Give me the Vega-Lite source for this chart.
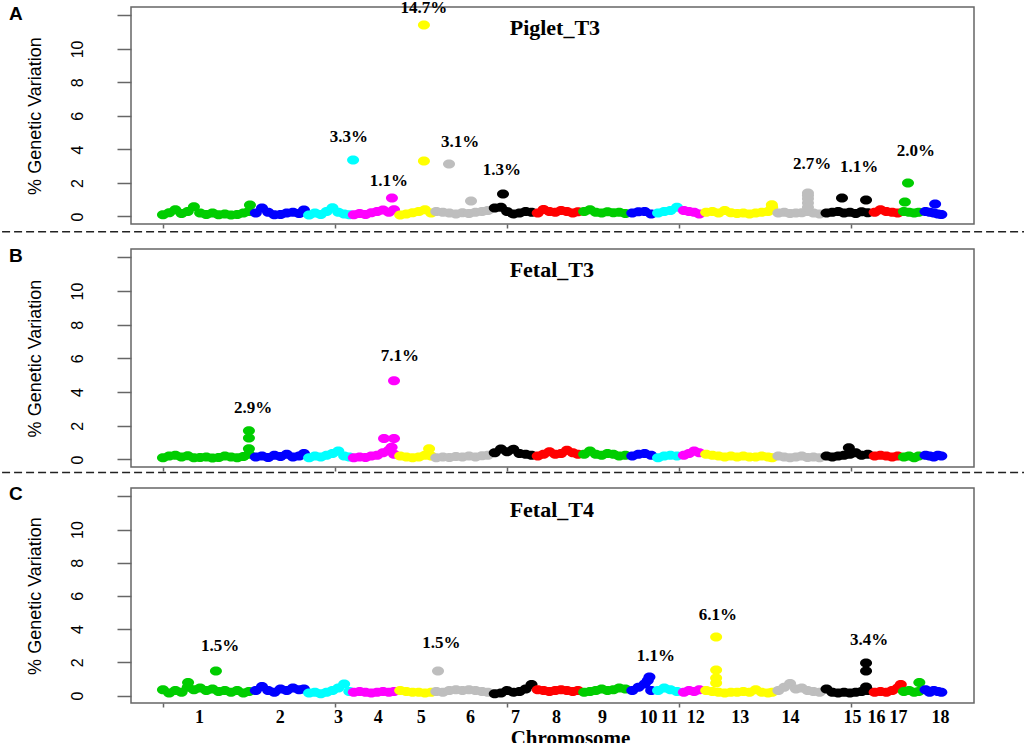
{
"$schema": "https://vega.github.io/schema/vega-lite/v6.json",
"padding": {"top": -2, "left": 0, "right": 0, "bottom": 0},
"background": "white",
"config": {"view": {"stroke": "#666666", "strokeWidth": 1.5}, "axis": {"grid": false, "labelOverlap": false}},
"datasets": {
"points": [
{"panel":"A","chr":"1","x":0,"y":0.1},{"panel":"A","chr":"1","x":18,"y":0.22},{"panel":"A","chr":"1","x":36,"y":0.4},{"panel":"A","chr":"1","x":54,"y":0.18},{"panel":"A","chr":"1","x":72,"y":0.3},{"panel":"A","chr":"1","x":90,"y":0.58},{"panel":"A","chr":"1","x":108,"y":0.2},{"panel":"A","chr":"1","x":126,"y":0.12},{"panel":"A","chr":"1","x":144,"y":0.2},{"panel":"A","chr":"1","x":162,"y":0.1},{"panel":"A","chr":"1","x":180,"y":0.15},{"panel":"A","chr":"1","x":198,"y":0.08},{"panel":"A","chr":"1","x":216,"y":0.12},{"panel":"A","chr":"1","x":234,"y":0.2},{"panel":"A","chr":"1","x":250,"y":0.3},{"panel":"A","chr":"1","x":253,"y":0.68},
{"panel":"A","chr":"2","x":270,"y":0.2},{"panel":"A","chr":"2","x":288,"y":0.5},{"panel":"A","chr":"2","x":306,"y":0.25},{"panel":"A","chr":"2","x":324,"y":0.1},{"panel":"A","chr":"2","x":342,"y":0.12},{"panel":"A","chr":"2","x":360,"y":0.2},{"panel":"A","chr":"2","x":378,"y":0.25},{"panel":"A","chr":"2","x":396,"y":0.18},{"panel":"A","chr":"2","x":410,"y":0.38},
{"panel":"A","chr":"3","x":425,"y":0.08},{"panel":"A","chr":"3","x":442,"y":0.2},{"panel":"A","chr":"3","x":459,"y":0.12},{"panel":"A","chr":"3","x":476,"y":0.3},{"panel":"A","chr":"3","x":493,"y":0.52},{"panel":"A","chr":"3","x":510,"y":0.25},{"panel":"A","chr":"3","x":527,"y":0.15},{"panel":"A","chr":"3","x":542,"y":0.1},{"panel":"A","chr":"3","x":553,"y":3.37},
{"panel":"A","chr":"4","x":555,"y":0.1},{"panel":"A","chr":"4","x":572,"y":0.18},{"panel":"A","chr":"4","x":589,"y":0.12},{"panel":"A","chr":"4","x":606,"y":0.22},{"panel":"A","chr":"4","x":623,"y":0.3},{"panel":"A","chr":"4","x":640,"y":0.38},{"panel":"A","chr":"4","x":657,"y":0.25},{"panel":"A","chr":"4","x":672,"y":0.4},{"panel":"A","chr":"4","x":666,"y":1.1},
{"panel":"A","chr":"5","x":690,"y":0.08},{"panel":"A","chr":"5","x":708,"y":0.15},{"panel":"A","chr":"5","x":726,"y":0.22},{"panel":"A","chr":"5","x":744,"y":0.3},{"panel":"A","chr":"5","x":762,"y":0.4},{"panel":"A","chr":"5","x":780,"y":0.2},{"panel":"A","chr":"5","x":759,"y":11.43},{"panel":"A","chr":"5","x":759,"y":3.31},
{"panel":"A","chr":"6","x":795,"y":0.3},{"panel":"A","chr":"6","x":814,"y":0.25},{"panel":"A","chr":"6","x":833,"y":0.2},{"panel":"A","chr":"6","x":852,"y":0.15},{"panel":"A","chr":"6","x":871,"y":0.22},{"panel":"A","chr":"6","x":890,"y":0.18},{"panel":"A","chr":"6","x":909,"y":0.25},{"panel":"A","chr":"6","x":928,"y":0.3},{"panel":"A","chr":"6","x":945,"y":0.35},{"panel":"A","chr":"6","x":832,"y":3.13},{"panel":"A","chr":"6","x":896,"y":0.92},
{"panel":"A","chr":"7","x":965,"y":0.5},{"panel":"A","chr":"7","x":983,"y":0.55},{"panel":"A","chr":"7","x":1001,"y":0.3},{"panel":"A","chr":"7","x":1019,"y":0.15},{"panel":"A","chr":"7","x":1037,"y":0.2},{"panel":"A","chr":"7","x":1055,"y":0.3},{"panel":"A","chr":"7","x":1072,"y":0.25},{"panel":"A","chr":"7","x":989,"y":1.34},
{"panel":"A","chr":"8","x":1090,"y":0.2},{"panel":"A","chr":"8","x":1107,"y":0.42},{"panel":"A","chr":"8","x":1124,"y":0.3},{"panel":"A","chr":"8","x":1141,"y":0.25},{"panel":"A","chr":"8","x":1158,"y":0.35},{"panel":"A","chr":"8","x":1175,"y":0.3},{"panel":"A","chr":"8","x":1192,"y":0.2},{"panel":"A","chr":"8","x":1207,"y":0.28},
{"panel":"A","chr":"9","x":1225,"y":0.3},{"panel":"A","chr":"9","x":1242,"y":0.4},{"panel":"A","chr":"9","x":1259,"y":0.25},{"panel":"A","chr":"9","x":1276,"y":0.2},{"panel":"A","chr":"9","x":1293,"y":0.28},{"panel":"A","chr":"9","x":1310,"y":0.22},{"panel":"A","chr":"9","x":1327,"y":0.25},{"panel":"A","chr":"9","x":1345,"y":0.18},
{"panel":"A","chr":"10","x":1365,"y":0.2},{"panel":"A","chr":"10","x":1383,"y":0.28},{"panel":"A","chr":"10","x":1401,"y":0.3},{"panel":"A","chr":"10","x":1420,"y":0.15},
{"panel":"A","chr":"11","x":1440,"y":0.2},{"panel":"A","chr":"11","x":1458,"y":0.3},{"panel":"A","chr":"11","x":1476,"y":0.35},{"panel":"A","chr":"11","x":1495,"y":0.55},
{"panel":"A","chr":"12","x":1515,"y":0.35},{"panel":"A","chr":"12","x":1530,"y":0.3},{"panel":"A","chr":"12","x":1545,"y":0.25},{"panel":"A","chr":"12","x":1560,"y":0.15},
{"panel":"A","chr":"13","x":1580,"y":0.25},{"panel":"A","chr":"13","x":1598,"y":0.3},{"panel":"A","chr":"13","x":1616,"y":0.2},{"panel":"A","chr":"13","x":1634,"y":0.35},{"panel":"A","chr":"13","x":1652,"y":0.22},{"panel":"A","chr":"13","x":1670,"y":0.18},{"panel":"A","chr":"13","x":1688,"y":0.2},{"panel":"A","chr":"13","x":1706,"y":0.15},{"panel":"A","chr":"13","x":1724,"y":0.2},{"panel":"A","chr":"13","x":1742,"y":0.25},{"panel":"A","chr":"13","x":1760,"y":0.3},{"panel":"A","chr":"13","x":1772,"y":0.55},{"panel":"A","chr":"13","x":1771,"y":0.7},
{"panel":"A","chr":"14","x":1790,"y":0.2},{"panel":"A","chr":"14","x":1807,"y":0.25},{"panel":"A","chr":"14","x":1824,"y":0.18},{"panel":"A","chr":"14","x":1841,"y":0.2},{"panel":"A","chr":"14","x":1858,"y":0.22},{"panel":"A","chr":"14","x":1875,"y":0.3},{"panel":"A","chr":"14","x":1892,"y":0.2},{"panel":"A","chr":"14","x":1910,"y":0.15},{"panel":"A","chr":"14","x":1876,"y":0.55},{"panel":"A","chr":"14","x":1876,"y":0.8},{"panel":"A","chr":"14","x":1876,"y":1.05},{"panel":"A","chr":"14","x":1876,"y":1.25},{"panel":"A","chr":"14","x":1876,"y":1.4},
{"panel":"A","chr":"15","x":1930,"y":0.2},{"panel":"A","chr":"15","x":1947,"y":0.25},{"panel":"A","chr":"15","x":1964,"y":0.3},{"panel":"A","chr":"15","x":1981,"y":0.2},{"panel":"A","chr":"15","x":1998,"y":0.25},{"panel":"A","chr":"15","x":2015,"y":0.18},{"panel":"A","chr":"15","x":2032,"y":0.28},{"panel":"A","chr":"15","x":2050,"y":0.22},{"panel":"A","chr":"15","x":1975,"y":1.1},{"panel":"A","chr":"15","x":2045,"y":0.98},
{"panel":"A","chr":"16","x":2070,"y":0.25},{"panel":"A","chr":"16","x":2087,"y":0.4},{"panel":"A","chr":"16","x":2104,"y":0.3},{"panel":"A","chr":"16","x":2121,"y":0.25},{"panel":"A","chr":"16","x":2137,"y":0.2},
{"panel":"A","chr":"17","x":2155,"y":0.3},{"panel":"A","chr":"17","x":2170,"y":0.25},{"panel":"A","chr":"17","x":2185,"y":0.2},{"panel":"A","chr":"17","x":2198,"y":0.25},{"panel":"A","chr":"17","x":2167,"y":2.0},{"panel":"A","chr":"17","x":2158,"y":0.87},
{"panel":"A","chr":"18","x":2218,"y":0.3},{"panel":"A","chr":"18","x":2230,"y":0.25},{"panel":"A","chr":"18","x":2242,"y":0.2},{"panel":"A","chr":"18","x":2254,"y":0.15},{"panel":"A","chr":"18","x":2264,"y":0.12},{"panel":"A","chr":"18","x":2246,"y":0.75},

{"panel":"B","chr":"1","x":0,"y":0.1},{"panel":"B","chr":"1","x":18,"y":0.2},{"panel":"B","chr":"1","x":36,"y":0.25},{"panel":"B","chr":"1","x":54,"y":0.15},{"panel":"B","chr":"1","x":72,"y":0.22},{"panel":"B","chr":"1","x":90,"y":0.1},{"panel":"B","chr":"1","x":108,"y":0.12},{"panel":"B","chr":"1","x":126,"y":0.15},{"panel":"B","chr":"1","x":144,"y":0.08},{"panel":"B","chr":"1","x":162,"y":0.12},{"panel":"B","chr":"1","x":180,"y":0.2},{"panel":"B","chr":"1","x":198,"y":0.15},{"panel":"B","chr":"1","x":216,"y":0.1},{"panel":"B","chr":"1","x":234,"y":0.18},{"panel":"B","chr":"1","x":250,"y":0.3},{"panel":"B","chr":"1","x":250,"y":1.7},{"panel":"B","chr":"1","x":250,"y":1.27},{"panel":"B","chr":"1","x":250,"y":0.63},
{"panel":"B","chr":"2","x":270,"y":0.15},{"panel":"B","chr":"2","x":288,"y":0.2},{"panel":"B","chr":"2","x":306,"y":0.12},{"panel":"B","chr":"2","x":324,"y":0.25},{"panel":"B","chr":"2","x":342,"y":0.18},{"panel":"B","chr":"2","x":360,"y":0.3},{"panel":"B","chr":"2","x":378,"y":0.15},{"panel":"B","chr":"2","x":396,"y":0.2},{"panel":"B","chr":"2","x":410,"y":0.35},
{"panel":"B","chr":"3","x":425,"y":0.1},{"panel":"B","chr":"3","x":442,"y":0.2},{"panel":"B","chr":"3","x":459,"y":0.15},{"panel":"B","chr":"3","x":476,"y":0.25},{"panel":"B","chr":"3","x":493,"y":0.35},{"panel":"B","chr":"3","x":510,"y":0.5},{"panel":"B","chr":"3","x":527,"y":0.2},{"panel":"B","chr":"3","x":542,"y":0.15},
{"panel":"B","chr":"4","x":555,"y":0.1},{"panel":"B","chr":"4","x":572,"y":0.15},{"panel":"B","chr":"4","x":589,"y":0.12},{"panel":"B","chr":"4","x":606,"y":0.2},{"panel":"B","chr":"4","x":623,"y":0.25},{"panel":"B","chr":"4","x":640,"y":0.4},{"panel":"B","chr":"4","x":657,"y":0.55},{"panel":"B","chr":"4","x":672,"y":0.3},{"panel":"B","chr":"4","x":643,"y":1.24},{"panel":"B","chr":"4","x":672,"y":1.24},{"panel":"B","chr":"4","x":672,"y":4.68},{"panel":"B","chr":"4","x":665,"y":0.72},
{"panel":"B","chr":"5","x":690,"y":0.2},{"panel":"B","chr":"5","x":708,"y":0.15},{"panel":"B","chr":"5","x":726,"y":0.1},{"panel":"B","chr":"5","x":744,"y":0.15},{"panel":"B","chr":"5","x":762,"y":0.25},{"panel":"B","chr":"5","x":780,"y":0.2},{"panel":"B","chr":"5","x":774,"y":0.63},
{"panel":"B","chr":"6","x":795,"y":0.1},{"panel":"B","chr":"6","x":814,"y":0.15},{"panel":"B","chr":"6","x":833,"y":0.12},{"panel":"B","chr":"6","x":852,"y":0.18},{"panel":"B","chr":"6","x":871,"y":0.15},{"panel":"B","chr":"6","x":890,"y":0.2},{"panel":"B","chr":"6","x":909,"y":0.15},{"panel":"B","chr":"6","x":928,"y":0.22},{"panel":"B","chr":"6","x":945,"y":0.25},
{"panel":"B","chr":"7","x":965,"y":0.4},{"panel":"B","chr":"7","x":983,"y":0.62},{"panel":"B","chr":"7","x":1001,"y":0.45},{"panel":"B","chr":"7","x":1019,"y":0.6},{"panel":"B","chr":"7","x":1037,"y":0.35},{"panel":"B","chr":"7","x":1055,"y":0.3},{"panel":"B","chr":"7","x":1072,"y":0.25},
{"panel":"B","chr":"8","x":1090,"y":0.2},{"panel":"B","chr":"8","x":1107,"y":0.3},{"panel":"B","chr":"8","x":1124,"y":0.45},{"panel":"B","chr":"8","x":1141,"y":0.3},{"panel":"B","chr":"8","x":1158,"y":0.35},{"panel":"B","chr":"8","x":1175,"y":0.55},{"panel":"B","chr":"8","x":1192,"y":0.4},{"panel":"B","chr":"8","x":1207,"y":0.3},
{"panel":"B","chr":"9","x":1225,"y":0.3},{"panel":"B","chr":"9","x":1242,"y":0.5},{"panel":"B","chr":"9","x":1259,"y":0.3},{"panel":"B","chr":"9","x":1276,"y":0.25},{"panel":"B","chr":"9","x":1293,"y":0.35},{"panel":"B","chr":"9","x":1310,"y":0.3},{"panel":"B","chr":"9","x":1327,"y":0.2},{"panel":"B","chr":"9","x":1345,"y":0.25},
{"panel":"B","chr":"10","x":1365,"y":0.2},{"panel":"B","chr":"10","x":1383,"y":0.3},{"panel":"B","chr":"10","x":1401,"y":0.35},{"panel":"B","chr":"10","x":1420,"y":0.25},
{"panel":"B","chr":"11","x":1440,"y":0.1},{"panel":"B","chr":"11","x":1458,"y":0.2},{"panel":"B","chr":"11","x":1476,"y":0.25},{"panel":"B","chr":"11","x":1495,"y":0.2},
{"panel":"B","chr":"12","x":1515,"y":0.25},{"panel":"B","chr":"12","x":1530,"y":0.35},{"panel":"B","chr":"12","x":1545,"y":0.5},{"panel":"B","chr":"12","x":1560,"y":0.4},
{"panel":"B","chr":"13","x":1580,"y":0.3},{"panel":"B","chr":"13","x":1598,"y":0.25},{"panel":"B","chr":"13","x":1616,"y":0.2},{"panel":"B","chr":"13","x":1634,"y":0.15},{"panel":"B","chr":"13","x":1652,"y":0.2},{"panel":"B","chr":"13","x":1670,"y":0.15},{"panel":"B","chr":"13","x":1688,"y":0.2},{"panel":"B","chr":"13","x":1706,"y":0.15},{"panel":"B","chr":"13","x":1724,"y":0.15},{"panel":"B","chr":"13","x":1742,"y":0.2},{"panel":"B","chr":"13","x":1760,"y":0.15},{"panel":"B","chr":"13","x":1772,"y":0.1},
{"panel":"B","chr":"14","x":1790,"y":0.2},{"panel":"B","chr":"14","x":1807,"y":0.15},{"panel":"B","chr":"14","x":1824,"y":0.1},{"panel":"B","chr":"14","x":1841,"y":0.15},{"panel":"B","chr":"14","x":1858,"y":0.2},{"panel":"B","chr":"14","x":1875,"y":0.12},{"panel":"B","chr":"14","x":1892,"y":0.15},{"panel":"B","chr":"14","x":1910,"y":0.1},
{"panel":"B","chr":"15","x":1930,"y":0.2},{"panel":"B","chr":"15","x":1947,"y":0.15},{"panel":"B","chr":"15","x":1964,"y":0.2},{"panel":"B","chr":"15","x":1981,"y":0.25},{"panel":"B","chr":"15","x":1998,"y":0.3},{"panel":"B","chr":"15","x":2015,"y":0.4},{"panel":"B","chr":"15","x":2032,"y":0.25},{"panel":"B","chr":"15","x":2050,"y":0.3},{"panel":"B","chr":"15","x":1995,"y":0.7},
{"panel":"B","chr":"16","x":2070,"y":0.2},{"panel":"B","chr":"16","x":2087,"y":0.25},{"panel":"B","chr":"16","x":2104,"y":0.2},{"panel":"B","chr":"16","x":2121,"y":0.15},{"panel":"B","chr":"16","x":2137,"y":0.2},
{"panel":"B","chr":"17","x":2155,"y":0.15},{"panel":"B","chr":"17","x":2170,"y":0.2},{"panel":"B","chr":"17","x":2185,"y":0.1},{"panel":"B","chr":"17","x":2198,"y":0.2},
{"panel":"B","chr":"18","x":2218,"y":0.25},{"panel":"B","chr":"18","x":2230,"y":0.2},{"panel":"B","chr":"18","x":2242,"y":0.15},{"panel":"B","chr":"18","x":2254,"y":0.25},{"panel":"B","chr":"18","x":2264,"y":0.2},

{"panel":"C","chr":"1","x":0,"y":0.35},{"panel":"C","chr":"1","x":18,"y":0.15},{"panel":"C","chr":"1","x":36,"y":0.3},{"panel":"C","chr":"1","x":54,"y":0.2},{"panel":"C","chr":"1","x":72,"y":0.5},{"panel":"C","chr":"1","x":90,"y":0.35},{"panel":"C","chr":"1","x":108,"y":0.45},{"panel":"C","chr":"1","x":126,"y":0.3},{"panel":"C","chr":"1","x":144,"y":0.4},{"panel":"C","chr":"1","x":162,"y":0.25},{"panel":"C","chr":"1","x":180,"y":0.3},{"panel":"C","chr":"1","x":198,"y":0.2},{"panel":"C","chr":"1","x":216,"y":0.3},{"panel":"C","chr":"1","x":234,"y":0.15},{"panel":"C","chr":"1","x":250,"y":0.25},{"panel":"C","chr":"1","x":154,"y":1.48},{"panel":"C","chr":"1","x":73,"y":0.78},
{"panel":"C","chr":"2","x":270,"y":0.3},{"panel":"C","chr":"2","x":288,"y":0.55},{"panel":"C","chr":"2","x":306,"y":0.3},{"panel":"C","chr":"2","x":324,"y":0.2},{"panel":"C","chr":"2","x":342,"y":0.4},{"panel":"C","chr":"2","x":360,"y":0.3},{"panel":"C","chr":"2","x":378,"y":0.45},{"panel":"C","chr":"2","x":396,"y":0.35},{"panel":"C","chr":"2","x":410,"y":0.4},
{"panel":"C","chr":"3","x":425,"y":0.15},{"panel":"C","chr":"3","x":442,"y":0.2},{"panel":"C","chr":"3","x":459,"y":0.1},{"panel":"C","chr":"3","x":476,"y":0.2},{"panel":"C","chr":"3","x":493,"y":0.3},{"panel":"C","chr":"3","x":510,"y":0.45},{"panel":"C","chr":"3","x":527,"y":0.7},{"panel":"C","chr":"3","x":542,"y":0.25},
{"panel":"C","chr":"4","x":555,"y":0.2},{"panel":"C","chr":"4","x":572,"y":0.25},{"panel":"C","chr":"4","x":589,"y":0.2},{"panel":"C","chr":"4","x":606,"y":0.15},{"panel":"C","chr":"4","x":623,"y":0.2},{"panel":"C","chr":"4","x":640,"y":0.25},{"panel":"C","chr":"4","x":657,"y":0.2},{"panel":"C","chr":"4","x":672,"y":0.25},
{"panel":"C","chr":"5","x":690,"y":0.3},{"panel":"C","chr":"5","x":708,"y":0.25},{"panel":"C","chr":"5","x":726,"y":0.2},{"panel":"C","chr":"5","x":744,"y":0.2},{"panel":"C","chr":"5","x":762,"y":0.15},{"panel":"C","chr":"5","x":780,"y":0.2},
{"panel":"C","chr":"6","x":795,"y":0.25},{"panel":"C","chr":"6","x":814,"y":0.2},{"panel":"C","chr":"6","x":833,"y":0.3},{"panel":"C","chr":"6","x":852,"y":0.35},{"panel":"C","chr":"6","x":871,"y":0.3},{"panel":"C","chr":"6","x":890,"y":0.35},{"panel":"C","chr":"6","x":909,"y":0.3},{"panel":"C","chr":"6","x":928,"y":0.25},{"panel":"C","chr":"6","x":945,"y":0.2},{"panel":"C","chr":"6","x":800,"y":1.48},
{"panel":"C","chr":"7","x":965,"y":0.1},{"panel":"C","chr":"7","x":983,"y":0.15},{"panel":"C","chr":"7","x":1001,"y":0.3},{"panel":"C","chr":"7","x":1019,"y":0.2},{"panel":"C","chr":"7","x":1037,"y":0.25},{"panel":"C","chr":"7","x":1055,"y":0.4},{"panel":"C","chr":"7","x":1072,"y":0.66},
{"panel":"C","chr":"8","x":1090,"y":0.35},{"panel":"C","chr":"8","x":1107,"y":0.3},{"panel":"C","chr":"8","x":1124,"y":0.25},{"panel":"C","chr":"8","x":1141,"y":0.3},{"panel":"C","chr":"8","x":1158,"y":0.35},{"panel":"C","chr":"8","x":1175,"y":0.3},{"panel":"C","chr":"8","x":1192,"y":0.25},{"panel":"C","chr":"8","x":1207,"y":0.3},
{"panel":"C","chr":"9","x":1225,"y":0.2},{"panel":"C","chr":"9","x":1242,"y":0.25},{"panel":"C","chr":"9","x":1259,"y":0.3},{"panel":"C","chr":"9","x":1276,"y":0.4},{"panel":"C","chr":"9","x":1293,"y":0.3},{"panel":"C","chr":"9","x":1310,"y":0.35},{"panel":"C","chr":"9","x":1327,"y":0.45},{"panel":"C","chr":"9","x":1345,"y":0.4},
{"panel":"C","chr":"10","x":1365,"y":0.3},{"panel":"C","chr":"10","x":1383,"y":0.5},{"panel":"C","chr":"10","x":1401,"y":0.7},{"panel":"C","chr":"10","x":1420,"y":0.3},{"panel":"C","chr":"10","x":1415,"y":1.11},{"panel":"C","chr":"10","x":1410,"y":0.9},
{"panel":"C","chr":"11","x":1440,"y":0.3},{"panel":"C","chr":"11","x":1458,"y":0.45},{"panel":"C","chr":"11","x":1476,"y":0.35},{"panel":"C","chr":"11","x":1495,"y":0.25},
{"panel":"C","chr":"12","x":1515,"y":0.2},{"panel":"C","chr":"12","x":1530,"y":0.3},{"panel":"C","chr":"12","x":1545,"y":0.25},{"panel":"C","chr":"12","x":1560,"y":0.35},
{"panel":"C","chr":"13","x":1580,"y":0.3},{"panel":"C","chr":"13","x":1598,"y":0.25},{"panel":"C","chr":"13","x":1616,"y":0.2},{"panel":"C","chr":"13","x":1634,"y":0.15},{"panel":"C","chr":"13","x":1652,"y":0.2},{"panel":"C","chr":"13","x":1670,"y":0.2},{"panel":"C","chr":"13","x":1688,"y":0.25},{"panel":"C","chr":"13","x":1706,"y":0.2},{"panel":"C","chr":"13","x":1724,"y":0.35},{"panel":"C","chr":"13","x":1742,"y":0.2},{"panel":"C","chr":"13","x":1760,"y":0.15},{"panel":"C","chr":"13","x":1772,"y":0.2},{"panel":"C","chr":"13","x":1609,"y":3.52},{"panel":"C","chr":"13","x":1609,"y":1.54},{"panel":"C","chr":"13","x":1609,"y":1.06},{"panel":"C","chr":"13","x":1609,"y":0.75},
{"panel":"C","chr":"14","x":1790,"y":0.3},{"panel":"C","chr":"14","x":1807,"y":0.5},{"panel":"C","chr":"14","x":1824,"y":0.72},{"panel":"C","chr":"14","x":1841,"y":0.4},{"panel":"C","chr":"14","x":1858,"y":0.45},{"panel":"C","chr":"14","x":1875,"y":0.3},{"panel":"C","chr":"14","x":1892,"y":0.25},{"panel":"C","chr":"14","x":1910,"y":0.2},
{"panel":"C","chr":"15","x":1930,"y":0.4},{"panel":"C","chr":"15","x":1947,"y":0.2},{"panel":"C","chr":"15","x":1964,"y":0.15},{"panel":"C","chr":"15","x":1981,"y":0.2},{"panel":"C","chr":"15","x":1998,"y":0.15},{"panel":"C","chr":"15","x":2015,"y":0.2},{"panel":"C","chr":"15","x":2032,"y":0.25},{"panel":"C","chr":"15","x":2050,"y":0.3},{"panel":"C","chr":"15","x":2045,"y":1.96},{"panel":"C","chr":"15","x":2045,"y":1.48},{"panel":"C","chr":"15","x":2045,"y":0.51},
{"panel":"C","chr":"16","x":2070,"y":0.2},{"panel":"C","chr":"16","x":2087,"y":0.25},{"panel":"C","chr":"16","x":2104,"y":0.2},{"panel":"C","chr":"16","x":2121,"y":0.3},{"panel":"C","chr":"16","x":2137,"y":0.45},{"panel":"C","chr":"16","x":2146,"y":0.66},
{"panel":"C","chr":"17","x":2155,"y":0.25},{"panel":"C","chr":"17","x":2170,"y":0.3},{"panel":"C","chr":"17","x":2185,"y":0.2},{"panel":"C","chr":"17","x":2198,"y":0.25},{"panel":"C","chr":"17","x":2200,"y":0.78},
{"panel":"C","chr":"18","x":2218,"y":0.35},{"panel":"C","chr":"18","x":2230,"y":0.2},{"panel":"C","chr":"18","x":2242,"y":0.3},{"panel":"C","chr":"18","x":2254,"y":0.25},{"panel":"C","chr":"18","x":2264,"y":0.2}
],
"labels": [
{"panel":"A","kind":"pct","text":"14.7%","x":759,"y":12.44},
{"panel":"A","kind":"pct","text":"3.3%","x":541,"y":4.74},
{"panel":"A","kind":"pct","text":"1.1%","x":657,"y":2.12},
{"panel":"A","kind":"pct","text":"3.1%","x":864,"y":4.45},
{"panel":"A","kind":"pct","text":"1.3%","x":986,"y":2.77},
{"panel":"A","kind":"pct","text":"2.7%","x":1888,"y":3.13},
{"panel":"A","kind":"pct","text":"1.1%","x":2025,"y":2.95},
{"panel":"A","kind":"pct","text":"2.0%","x":2190,"y":3.91},
{"panel":"A","kind":"name","text":"Piglet_T3","x":1140,"y":11.25},
{"panel":"A","kind":"letter","text":"A","x":-448,"y":12.11},
{"panel":"B","kind":"pct","text":"2.9%","x":262,"y":3.07},
{"panel":"B","kind":"pct","text":"7.1%","x":689,"y":6.12},
{"panel":"B","kind":"name","text":"Fetal_T3","x":1131,"y":11.25},
{"panel":"B","kind":"letter","text":"B","x":-448,"y":12.11},
{"panel":"C","kind":"pct","text":"1.5%","x":166,"y":2.98},
{"panel":"C","kind":"pct","text":"1.5%","x":810,"y":3.18},
{"panel":"C","kind":"pct","text":"1.1%","x":1434,"y":2.38},
{"panel":"C","kind":"pct","text":"6.1%","x":1614,"y":4.85},
{"panel":"C","kind":"pct","text":"3.4%","x":2054,"y":3.34},
{"panel":"C","kind":"name","text":"Fetal_T4","x":1131,"y":11.2},
{"panel":"C","kind":"letter","text":"C","x":-448,"y":12.11}
]
},
"spacing": 25,
"bounds": "flush",
"vconcat": [
{
"width": 843, "height": 217,
"layer": [
{"data": {"name": "points"}, "transform": [{"filter": "datum.panel === 'A'"}],
 "mark": {"type": "point", "filled": true, "opacity": 1, "strokeWidth": 0, "size": 144, "shape": "M-1,0C-1,-0.414,-0.552,-0.75,0,-0.75C0.552,-0.75,1,-0.414,1,0C1,0.414,0.552,0.75,0,0.75C-0.552,0.75,-1,0.414,-1,0Z"},
 "encoding": {
  "x": {"field": "x", "type": "quantitative", "scale": {"domain": [-93, 2359], "nice": false, "zero": false}, "axis": {"values": [0, 500, 1000, 1500, 2000], "labels": false, "title": null, "labelOverlap": false, "domain": false, "grid": false, "tickSize": 4, "tickWidth": 1.5, "tickColor": "#666666"}},
  "y": {"field": "y", "type": "quantitative", "scale": {"domain": [-0.45, 12.5], "nice": false, "zero": false}, "axis": {"title": "% Genetic Variation", "values": [0, 2, 4, 6, 8, 10, 12], "labelExpr": "datum.value === 12 ? '' : datum.label", "labelOverlap": false, "domain": false, "grid": false, "tickSize": 14, "tickWidth": 1.5, "tickColor": "#666666", "labelAngle": -90, "labelAlign": "center", "labelBaseline": "alphabetic", "labelPadding": 35, "labelFont": "Liberation Sans", "labelFontSize": 16, "labelColor": "#000000", "titleFont": "Liberation Sans", "titleFontSize": 18, "titleFontWeight": "normal", "titleColor": "#000000", "titleAngle": -90, "titleBaseline": "alphabetic", "titleX": -91}},
  "color": {"field": "chr", "type": "nominal", "legend": null, "scale": {"domain": ["1","2","3","4","5","6","7","8","9","10","11","12","13","14","15","16","17","18"], "range": ["#00CD00","#0000FF","#00FFFF","#FF00FF","#FFFF00","#BEBEBE","#000000","#FF0000","#00CD00","#0000FF","#00FFFF","#FF00FF","#FFFF00","#BEBEBE","#000000","#FF0000","#00CD00","#0000FF"]}}
 }},
{"data": {"name": "labels"}, "transform": [{"filter": "datum.panel === 'A' && datum.kind === 'pct'"}],
 "mark": {"type": "text", "font": "Liberation Serif", "fontWeight": "bold", "fontSize": 17, "baseline": "middle", "align": "center", "color": "#000000"},
 "encoding": {
  "x": {"field": "x", "type": "quantitative", "scale": {"domain": [-93, 2359], "nice": false, "zero": false}, "axis": {"values": [0, 500, 1000, 1500, 2000], "labels": false, "title": null, "labelOverlap": false, "domain": false, "grid": false, "tickSize": 4, "tickWidth": 1.5, "tickColor": "#666666"}},
  "y": {"field": "y", "type": "quantitative", "scale": {"domain": [-0.45, 12.5], "nice": false, "zero": false}, "axis": {"title": "% Genetic Variation", "values": [0, 2, 4, 6, 8, 10, 12], "labelExpr": "datum.value === 12 ? '' : datum.label", "labelOverlap": false, "domain": false, "grid": false, "tickSize": 14, "tickWidth": 1.5, "tickColor": "#666666", "labelAngle": -90, "labelAlign": "center", "labelBaseline": "alphabetic", "labelPadding": 35, "labelFont": "Liberation Sans", "labelFontSize": 16, "labelColor": "#000000", "titleFont": "Liberation Sans", "titleFontSize": 18, "titleFontWeight": "normal", "titleColor": "#000000", "titleAngle": -90, "titleBaseline": "alphabetic", "titleX": -91}},
  "text": {"field": "text"}}},
{"data": {"name": "labels"}, "transform": [{"filter": "datum.panel === 'A' && datum.kind === 'name'"}],
 "mark": {"type": "text", "font": "Liberation Serif", "fontWeight": "bold", "fontSize": 22, "baseline": "middle", "align": "center", "color": "#000000"},
 "encoding": {
  "x": {"field": "x", "type": "quantitative", "scale": {"domain": [-93, 2359], "nice": false, "zero": false}, "axis": {"values": [0, 500, 1000, 1500, 2000], "labels": false, "title": null, "labelOverlap": false, "domain": false, "grid": false, "tickSize": 4, "tickWidth": 1.5, "tickColor": "#666666"}},
  "y": {"field": "y", "type": "quantitative", "scale": {"domain": [-0.45, 12.5], "nice": false, "zero": false}, "axis": {"title": "% Genetic Variation", "values": [0, 2, 4, 6, 8, 10, 12], "labelExpr": "datum.value === 12 ? '' : datum.label", "labelOverlap": false, "domain": false, "grid": false, "tickSize": 14, "tickWidth": 1.5, "tickColor": "#666666", "labelAngle": -90, "labelAlign": "center", "labelBaseline": "alphabetic", "labelPadding": 35, "labelFont": "Liberation Sans", "labelFontSize": 16, "labelColor": "#000000", "titleFont": "Liberation Sans", "titleFontSize": 18, "titleFontWeight": "normal", "titleColor": "#000000", "titleAngle": -90, "titleBaseline": "alphabetic", "titleX": -91}},
  "text": {"field": "text"}}},
{"data": {"name": "labels"}, "transform": [{"filter": "datum.panel === 'A' && datum.kind === 'letter'"}],
 "mark": {"type": "text", "font": "Liberation Sans", "fontWeight": "bold", "fontSize": 19, "baseline": "middle", "align": "left", "color": "#000000"},
 "encoding": {
  "x": {"field": "x", "type": "quantitative", "scale": {"domain": [-93, 2359], "nice": false, "zero": false}, "axis": {"values": [0, 500, 1000, 1500, 2000], "labels": false, "title": null, "labelOverlap": false, "domain": false, "grid": false, "tickSize": 4, "tickWidth": 1.5, "tickColor": "#666666"}},
  "y": {"field": "y", "type": "quantitative", "scale": {"domain": [-0.45, 12.5], "nice": false, "zero": false}, "axis": {"title": "% Genetic Variation", "values": [0, 2, 4, 6, 8, 10, 12], "labelExpr": "datum.value === 12 ? '' : datum.label", "labelOverlap": false, "domain": false, "grid": false, "tickSize": 14, "tickWidth": 1.5, "tickColor": "#666666", "labelAngle": -90, "labelAlign": "center", "labelBaseline": "alphabetic", "labelPadding": 35, "labelFont": "Liberation Sans", "labelFontSize": 16, "labelColor": "#000000", "titleFont": "Liberation Sans", "titleFontSize": 18, "titleFontWeight": "normal", "titleColor": "#000000", "titleAngle": -90, "titleBaseline": "alphabetic", "titleX": -91}},
  "text": {"field": "text"}}},
{"data": {"values": [{}]},
 "mark": {"type": "rule", "strokeDash": [8, 4], "strokeWidth": 1.6, "color": "#222222"},
 "encoding": {
  "x": {"datum": -468, "type": "quantitative", "scale": {"domain": [-93, 2359], "nice": false, "zero": false}, "axis": {"values": [0, 500, 1000, 1500, 2000], "labels": false, "title": null, "labelOverlap": false, "domain": false, "grid": false, "tickSize": 4, "tickWidth": 1.5, "tickColor": "#666666"}},
  "x2": {"datum": 2510},
  "y": {"datum": -0.91, "type": "quantitative", "scale": {"domain": [-0.45, 12.5], "nice": false, "zero": false}, "axis": {"title": "% Genetic Variation", "values": [0, 2, 4, 6, 8, 10, 12], "labelExpr": "datum.value === 12 ? '' : datum.label", "labelOverlap": false, "domain": false, "grid": false, "tickSize": 14, "tickWidth": 1.5, "tickColor": "#666666", "labelAngle": -90, "labelAlign": "center", "labelBaseline": "alphabetic", "labelPadding": 35, "labelFont": "Liberation Sans", "labelFontSize": 16, "labelColor": "#000000", "titleFont": "Liberation Sans", "titleFontSize": 18, "titleFontWeight": "normal", "titleColor": "#000000", "titleAngle": -90, "titleBaseline": "alphabetic", "titleX": -91}}
 }}
]
},
{
"spacing": 21,
"bounds": "flush",
"vconcat": [
{
"width": 843, "height": 218,
"layer": [
{"data": {"name": "points"}, "transform": [{"filter": "datum.panel === 'B'"}],
 "mark": {"type": "point", "filled": true, "opacity": 1, "strokeWidth": 0, "size": 144, "shape": "M-1,0C-1,-0.414,-0.552,-0.75,0,-0.75C0.552,-0.75,1,-0.414,1,0C1,0.414,0.552,0.75,0,0.75C-0.552,0.75,-1,0.414,-1,0Z"},
 "encoding": {
  "x": {"field": "x", "type": "quantitative", "scale": {"domain": [-93, 2359], "nice": false, "zero": false}, "axis": {"values": [0, 500, 1000, 1500, 2000], "labels": false, "title": null, "labelOverlap": false, "domain": false, "grid": false, "tickSize": 4, "tickWidth": 1.5, "tickColor": "#666666"}},
  "y": {"field": "y", "type": "quantitative", "scale": {"domain": [-0.45, 12.5], "nice": false, "zero": false}, "axis": {"title": "% Genetic Variation", "values": [0, 2, 4, 6, 8, 10, 12], "labelExpr": "datum.value === 12 ? '' : datum.label", "labelOverlap": false, "domain": false, "grid": false, "tickSize": 14, "tickWidth": 1.5, "tickColor": "#666666", "labelAngle": -90, "labelAlign": "center", "labelBaseline": "alphabetic", "labelPadding": 35, "labelFont": "Liberation Sans", "labelFontSize": 16, "labelColor": "#000000", "titleFont": "Liberation Sans", "titleFontSize": 18, "titleFontWeight": "normal", "titleColor": "#000000", "titleAngle": -90, "titleBaseline": "alphabetic", "titleX": -91}},
  "color": {"field": "chr", "type": "nominal", "legend": null, "scale": {"domain": ["1","2","3","4","5","6","7","8","9","10","11","12","13","14","15","16","17","18"], "range": ["#00CD00","#0000FF","#00FFFF","#FF00FF","#FFFF00","#BEBEBE","#000000","#FF0000","#00CD00","#0000FF","#00FFFF","#FF00FF","#FFFF00","#BEBEBE","#000000","#FF0000","#00CD00","#0000FF"]}}
 }},
{"data": {"name": "labels"}, "transform": [{"filter": "datum.panel === 'B' && datum.kind === 'pct'"}],
 "mark": {"type": "text", "font": "Liberation Serif", "fontWeight": "bold", "fontSize": 17, "baseline": "middle", "align": "center", "color": "#000000"},
 "encoding": {
  "x": {"field": "x", "type": "quantitative", "scale": {"domain": [-93, 2359], "nice": false, "zero": false}, "axis": {"values": [0, 500, 1000, 1500, 2000], "labels": false, "title": null, "labelOverlap": false, "domain": false, "grid": false, "tickSize": 4, "tickWidth": 1.5, "tickColor": "#666666"}},
  "y": {"field": "y", "type": "quantitative", "scale": {"domain": [-0.45, 12.5], "nice": false, "zero": false}, "axis": {"title": "% Genetic Variation", "values": [0, 2, 4, 6, 8, 10, 12], "labelExpr": "datum.value === 12 ? '' : datum.label", "labelOverlap": false, "domain": false, "grid": false, "tickSize": 14, "tickWidth": 1.5, "tickColor": "#666666", "labelAngle": -90, "labelAlign": "center", "labelBaseline": "alphabetic", "labelPadding": 35, "labelFont": "Liberation Sans", "labelFontSize": 16, "labelColor": "#000000", "titleFont": "Liberation Sans", "titleFontSize": 18, "titleFontWeight": "normal", "titleColor": "#000000", "titleAngle": -90, "titleBaseline": "alphabetic", "titleX": -91}},
  "text": {"field": "text"}}},
{"data": {"name": "labels"}, "transform": [{"filter": "datum.panel === 'B' && datum.kind === 'name'"}],
 "mark": {"type": "text", "font": "Liberation Serif", "fontWeight": "bold", "fontSize": 22, "baseline": "middle", "align": "center", "color": "#000000"},
 "encoding": {
  "x": {"field": "x", "type": "quantitative", "scale": {"domain": [-93, 2359], "nice": false, "zero": false}, "axis": {"values": [0, 500, 1000, 1500, 2000], "labels": false, "title": null, "labelOverlap": false, "domain": false, "grid": false, "tickSize": 4, "tickWidth": 1.5, "tickColor": "#666666"}},
  "y": {"field": "y", "type": "quantitative", "scale": {"domain": [-0.45, 12.5], "nice": false, "zero": false}, "axis": {"title": "% Genetic Variation", "values": [0, 2, 4, 6, 8, 10, 12], "labelExpr": "datum.value === 12 ? '' : datum.label", "labelOverlap": false, "domain": false, "grid": false, "tickSize": 14, "tickWidth": 1.5, "tickColor": "#666666", "labelAngle": -90, "labelAlign": "center", "labelBaseline": "alphabetic", "labelPadding": 35, "labelFont": "Liberation Sans", "labelFontSize": 16, "labelColor": "#000000", "titleFont": "Liberation Sans", "titleFontSize": 18, "titleFontWeight": "normal", "titleColor": "#000000", "titleAngle": -90, "titleBaseline": "alphabetic", "titleX": -91}},
  "text": {"field": "text"}}},
{"data": {"name": "labels"}, "transform": [{"filter": "datum.panel === 'B' && datum.kind === 'letter'"}],
 "mark": {"type": "text", "font": "Liberation Sans", "fontWeight": "bold", "fontSize": 19, "baseline": "middle", "align": "left", "color": "#000000"},
 "encoding": {
  "x": {"field": "x", "type": "quantitative", "scale": {"domain": [-93, 2359], "nice": false, "zero": false}, "axis": {"values": [0, 500, 1000, 1500, 2000], "labels": false, "title": null, "labelOverlap": false, "domain": false, "grid": false, "tickSize": 4, "tickWidth": 1.5, "tickColor": "#666666"}},
  "y": {"field": "y", "type": "quantitative", "scale": {"domain": [-0.45, 12.5], "nice": false, "zero": false}, "axis": {"title": "% Genetic Variation", "values": [0, 2, 4, 6, 8, 10, 12], "labelExpr": "datum.value === 12 ? '' : datum.label", "labelOverlap": false, "domain": false, "grid": false, "tickSize": 14, "tickWidth": 1.5, "tickColor": "#666666", "labelAngle": -90, "labelAlign": "center", "labelBaseline": "alphabetic", "labelPadding": 35, "labelFont": "Liberation Sans", "labelFontSize": 16, "labelColor": "#000000", "titleFont": "Liberation Sans", "titleFontSize": 18, "titleFontWeight": "normal", "titleColor": "#000000", "titleAngle": -90, "titleBaseline": "alphabetic", "titleX": -91}},
  "text": {"field": "text"}}},
{"data": {"values": [{}]},
 "mark": {"type": "rule", "strokeDash": [8, 4], "strokeWidth": 1.6, "color": "#222222"},
 "encoding": {
  "x": {"datum": -468, "type": "quantitative", "scale": {"domain": [-93, 2359], "nice": false, "zero": false}, "axis": {"values": [0, 500, 1000, 1500, 2000], "labels": false, "title": null, "labelOverlap": false, "domain": false, "grid": false, "tickSize": 4, "tickWidth": 1.5, "tickColor": "#666666"}},
  "x2": {"datum": 2510},
  "y": {"datum": -0.78, "type": "quantitative", "scale": {"domain": [-0.45, 12.5], "nice": false, "zero": false}, "axis": {"title": "% Genetic Variation", "values": [0, 2, 4, 6, 8, 10, 12], "labelExpr": "datum.value === 12 ? '' : datum.label", "labelOverlap": false, "domain": false, "grid": false, "tickSize": 14, "tickWidth": 1.5, "tickColor": "#666666", "labelAngle": -90, "labelAlign": "center", "labelBaseline": "alphabetic", "labelPadding": 35, "labelFont": "Liberation Sans", "labelFontSize": 16, "labelColor": "#000000", "titleFont": "Liberation Sans", "titleFontSize": 18, "titleFontWeight": "normal", "titleColor": "#000000", "titleAngle": -90, "titleBaseline": "alphabetic", "titleX": -91}}
 }}
]
},
{
"width": 843, "height": 215,
"layer": [
{"data": {"name": "points"}, "transform": [{"filter": "datum.panel === 'C'"}],
 "mark": {"type": "point", "filled": true, "opacity": 1, "strokeWidth": 0, "size": 144, "shape": "M-1,0C-1,-0.414,-0.552,-0.75,0,-0.75C0.552,-0.75,1,-0.414,1,0C1,0.414,0.552,0.75,0,0.75C-0.552,0.75,-1,0.414,-1,0Z"},
 "encoding": {
  "x": {"field": "x", "type": "quantitative", "scale": {"domain": [-93, 2359], "nice": false, "zero": false}, "axis": {"values": [0, 500, 1000, 1500, 2000, 105, 340, 509, 625, 750, 893, 1024, 1143, 1277, 1411, 1472, 1548, 1678, 1824, 2004, 2074, 2138, 2260], "labelExpr": "datum.value % 500 === 0 ? '' : '' + (indexof([105, 340, 509, 625, 750, 893, 1024, 1143, 1277, 1411, 1472, 1548, 1678, 1824, 2004, 2074, 2138, 2260], datum.value) + 1)", "tickOpacity": {"condition": {"test": "datum.value % 500 === 0", "value": 1}, "value": 0}, "labelOverlap": false, "labelFlush": false, "labelBound": false, "labelFont": "Liberation Serif", "labelFontWeight": "bold", "labelFontSize": 18, "labelColor": "#000000", "labelPadding": 1, "title": "Chromosome", "titleFont": "Liberation Serif", "titleFontWeight": "bold", "titleFontSize": 21, "titleColor": "#000000", "titleX": 439, "titleY": 24, "titleBaseline": "top", "domain": false, "grid": false, "tickSize": 4, "tickWidth": 1.5, "tickColor": "#666666"}},
  "y": {"field": "y", "type": "quantitative", "scale": {"domain": [-0.45, 12.5], "nice": false, "zero": false}, "axis": {"title": "% Genetic Variation", "values": [0, 2, 4, 6, 8, 10, 12], "labelExpr": "datum.value === 12 ? '' : datum.label", "labelOverlap": false, "domain": false, "grid": false, "tickSize": 14, "tickWidth": 1.5, "tickColor": "#666666", "labelAngle": -90, "labelAlign": "center", "labelBaseline": "alphabetic", "labelPadding": 35, "labelFont": "Liberation Sans", "labelFontSize": 16, "labelColor": "#000000", "titleFont": "Liberation Sans", "titleFontSize": 18, "titleFontWeight": "normal", "titleColor": "#000000", "titleAngle": -90, "titleBaseline": "alphabetic", "titleX": -91}},
  "color": {"field": "chr", "type": "nominal", "legend": null, "scale": {"domain": ["1","2","3","4","5","6","7","8","9","10","11","12","13","14","15","16","17","18"], "range": ["#00CD00","#0000FF","#00FFFF","#FF00FF","#FFFF00","#BEBEBE","#000000","#FF0000","#00CD00","#0000FF","#00FFFF","#FF00FF","#FFFF00","#BEBEBE","#000000","#FF0000","#00CD00","#0000FF"]}}
 }},
{"data": {"name": "labels"}, "transform": [{"filter": "datum.panel === 'C' && datum.kind === 'pct'"}],
 "mark": {"type": "text", "font": "Liberation Serif", "fontWeight": "bold", "fontSize": 17, "baseline": "middle", "align": "center", "color": "#000000"},
 "encoding": {
  "x": {"field": "x", "type": "quantitative", "scale": {"domain": [-93, 2359], "nice": false, "zero": false}, "axis": {"values": [0, 500, 1000, 1500, 2000, 105, 340, 509, 625, 750, 893, 1024, 1143, 1277, 1411, 1472, 1548, 1678, 1824, 2004, 2074, 2138, 2260], "labelExpr": "datum.value % 500 === 0 ? '' : '' + (indexof([105, 340, 509, 625, 750, 893, 1024, 1143, 1277, 1411, 1472, 1548, 1678, 1824, 2004, 2074, 2138, 2260], datum.value) + 1)", "tickOpacity": {"condition": {"test": "datum.value % 500 === 0", "value": 1}, "value": 0}, "labelOverlap": false, "labelFlush": false, "labelBound": false, "labelFont": "Liberation Serif", "labelFontWeight": "bold", "labelFontSize": 18, "labelColor": "#000000", "labelPadding": 1, "title": "Chromosome", "titleFont": "Liberation Serif", "titleFontWeight": "bold", "titleFontSize": 21, "titleColor": "#000000", "titleX": 439, "titleY": 24, "titleBaseline": "top", "domain": false, "grid": false, "tickSize": 4, "tickWidth": 1.5, "tickColor": "#666666"}},
  "y": {"field": "y", "type": "quantitative", "scale": {"domain": [-0.45, 12.5], "nice": false, "zero": false}, "axis": {"title": "% Genetic Variation", "values": [0, 2, 4, 6, 8, 10, 12], "labelExpr": "datum.value === 12 ? '' : datum.label", "labelOverlap": false, "domain": false, "grid": false, "tickSize": 14, "tickWidth": 1.5, "tickColor": "#666666", "labelAngle": -90, "labelAlign": "center", "labelBaseline": "alphabetic", "labelPadding": 35, "labelFont": "Liberation Sans", "labelFontSize": 16, "labelColor": "#000000", "titleFont": "Liberation Sans", "titleFontSize": 18, "titleFontWeight": "normal", "titleColor": "#000000", "titleAngle": -90, "titleBaseline": "alphabetic", "titleX": -91}},
  "text": {"field": "text"}}},
{"data": {"name": "labels"}, "transform": [{"filter": "datum.panel === 'C' && datum.kind === 'name'"}],
 "mark": {"type": "text", "font": "Liberation Serif", "fontWeight": "bold", "fontSize": 22, "baseline": "middle", "align": "center", "color": "#000000"},
 "encoding": {
  "x": {"field": "x", "type": "quantitative", "scale": {"domain": [-93, 2359], "nice": false, "zero": false}, "axis": {"values": [0, 500, 1000, 1500, 2000, 105, 340, 509, 625, 750, 893, 1024, 1143, 1277, 1411, 1472, 1548, 1678, 1824, 2004, 2074, 2138, 2260], "labelExpr": "datum.value % 500 === 0 ? '' : '' + (indexof([105, 340, 509, 625, 750, 893, 1024, 1143, 1277, 1411, 1472, 1548, 1678, 1824, 2004, 2074, 2138, 2260], datum.value) + 1)", "tickOpacity": {"condition": {"test": "datum.value % 500 === 0", "value": 1}, "value": 0}, "labelOverlap": false, "labelFlush": false, "labelBound": false, "labelFont": "Liberation Serif", "labelFontWeight": "bold", "labelFontSize": 18, "labelColor": "#000000", "labelPadding": 1, "title": "Chromosome", "titleFont": "Liberation Serif", "titleFontWeight": "bold", "titleFontSize": 21, "titleColor": "#000000", "titleX": 439, "titleY": 24, "titleBaseline": "top", "domain": false, "grid": false, "tickSize": 4, "tickWidth": 1.5, "tickColor": "#666666"}},
  "y": {"field": "y", "type": "quantitative", "scale": {"domain": [-0.45, 12.5], "nice": false, "zero": false}, "axis": {"title": "% Genetic Variation", "values": [0, 2, 4, 6, 8, 10, 12], "labelExpr": "datum.value === 12 ? '' : datum.label", "labelOverlap": false, "domain": false, "grid": false, "tickSize": 14, "tickWidth": 1.5, "tickColor": "#666666", "labelAngle": -90, "labelAlign": "center", "labelBaseline": "alphabetic", "labelPadding": 35, "labelFont": "Liberation Sans", "labelFontSize": 16, "labelColor": "#000000", "titleFont": "Liberation Sans", "titleFontSize": 18, "titleFontWeight": "normal", "titleColor": "#000000", "titleAngle": -90, "titleBaseline": "alphabetic", "titleX": -91}},
  "text": {"field": "text"}}},
{"data": {"name": "labels"}, "transform": [{"filter": "datum.panel === 'C' && datum.kind === 'letter'"}],
 "mark": {"type": "text", "font": "Liberation Sans", "fontWeight": "bold", "fontSize": 19, "baseline": "middle", "align": "left", "color": "#000000"},
 "encoding": {
  "x": {"field": "x", "type": "quantitative", "scale": {"domain": [-93, 2359], "nice": false, "zero": false}, "axis": {"values": [0, 500, 1000, 1500, 2000, 105, 340, 509, 625, 750, 893, 1024, 1143, 1277, 1411, 1472, 1548, 1678, 1824, 2004, 2074, 2138, 2260], "labelExpr": "datum.value % 500 === 0 ? '' : '' + (indexof([105, 340, 509, 625, 750, 893, 1024, 1143, 1277, 1411, 1472, 1548, 1678, 1824, 2004, 2074, 2138, 2260], datum.value) + 1)", "tickOpacity": {"condition": {"test": "datum.value % 500 === 0", "value": 1}, "value": 0}, "labelOverlap": false, "labelFlush": false, "labelBound": false, "labelFont": "Liberation Serif", "labelFontWeight": "bold", "labelFontSize": 18, "labelColor": "#000000", "labelPadding": 1, "title": "Chromosome", "titleFont": "Liberation Serif", "titleFontWeight": "bold", "titleFontSize": 21, "titleColor": "#000000", "titleX": 439, "titleY": 24, "titleBaseline": "top", "domain": false, "grid": false, "tickSize": 4, "tickWidth": 1.5, "tickColor": "#666666"}},
  "y": {"field": "y", "type": "quantitative", "scale": {"domain": [-0.45, 12.5], "nice": false, "zero": false}, "axis": {"title": "% Genetic Variation", "values": [0, 2, 4, 6, 8, 10, 12], "labelExpr": "datum.value === 12 ? '' : datum.label", "labelOverlap": false, "domain": false, "grid": false, "tickSize": 14, "tickWidth": 1.5, "tickColor": "#666666", "labelAngle": -90, "labelAlign": "center", "labelBaseline": "alphabetic", "labelPadding": 35, "labelFont": "Liberation Sans", "labelFontSize": 16, "labelColor": "#000000", "titleFont": "Liberation Sans", "titleFontSize": 18, "titleFontWeight": "normal", "titleColor": "#000000", "titleAngle": -90, "titleBaseline": "alphabetic", "titleX": -91}},
  "text": {"field": "text"}}}
]
}
]
}
]
}
